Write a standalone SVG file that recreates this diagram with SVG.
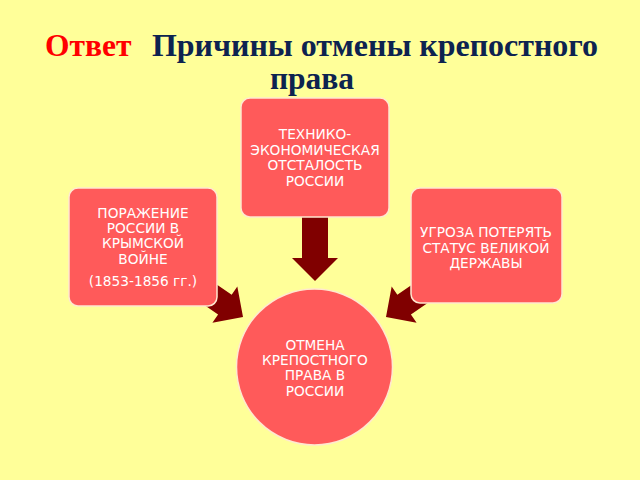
<svg xmlns="http://www.w3.org/2000/svg" width="640" height="480" viewBox="0 0 640 480">
<defs>
<style>
.bg{fill:#FFFF99}
.box{fill:#FF5A5A;stroke:#FFE8D0;stroke-width:1.5}
.arr{fill:#800000}
.t{font-family:"DejaVu Sans","Liberation Sans",sans-serif;font-size:13.7px;fill:#FFFFFF;text-anchor:middle}
.title{font-family:"Liberation Serif","Times New Roman",serif;font-weight:bold;font-size:31.5px}
</style>
</defs>
<rect class="bg" x="0" y="0" width="640" height="480"/>
<g id="title">
<text class="title" x="45" y="56" fill="#FF0000">Ответ</text>
<text class="title" x="152" y="56" fill="#0D2350" textLength="446" lengthAdjust="spacingAndGlyphs">Причины отмены крепостного</text>
<text class="title" x="312" y="89" fill="#0D2350" text-anchor="middle">права</text>
</g>
<g id="connectors">
<polygon class="arr" points="302,217 328,217 328,258 338,258 315,281 292,258 302,258"/>
<g transform="translate(243,317) rotate(34.5)">
<polygon class="arr" points="0,0 -22,-22 -22,-12 -60,-12 -60,12 -22,12 -22,22"/>
</g>
<g transform="translate(386,317) rotate(145.5)">
<polygon class="arr" points="0,0 -22,-22 -22,-12 -60,-12 -60,12 -22,12 -22,22"/>
</g>
</g>
<g id="n-tech">
<rect class="box" x="241" y="98" width="148" height="119" rx="9"/>
<text class="t" x="315" y="139">ТЕХНИКО-</text>
<text class="t" x="315" y="154.5">ЭКОНОМИЧЕСКАЯ</text>
<text class="t" x="315" y="170">ОТСТАЛОСТЬ</text>
<text class="t" x="315" y="185.5">РОССИИ</text>
</g>
<g id="n-war">
<rect class="box" x="69" y="188" width="148" height="118" rx="9"/>
<text class="t" x="143" y="218">ПОРАЖЕНИЕ</text>
<text class="t" x="143" y="233">РОССИИ В</text>
<text class="t" x="143" y="248">КРЫМСКОЙ</text>
<text class="t" x="143" y="264">ВОЙНЕ</text>
<text class="t" x="143" y="286">(1853-1856 гг.)</text>
</g>
<g id="n-status">
<rect class="box" x="411" y="188" width="151" height="115" rx="9"/>
<text class="t" x="486" y="237">УГРОЗА ПОТЕРЯТЬ</text>
<text class="t" x="486" y="253">СТАТУС ВЕЛИКОЙ</text>
<text class="t" x="486" y="268">ДЕРЖАВЫ</text>
</g>
<g id="n-result">
<circle class="box" cx="314.5" cy="367" r="78"/>
<text class="t" x="315" y="350">ОТМЕНА</text>
<text class="t" x="315" y="365">КРЕПОСТНОГО</text>
<text class="t" x="315" y="380">ПРАВА В</text>
<text class="t" x="315" y="396">РОССИИ</text>
</g>
</svg>
